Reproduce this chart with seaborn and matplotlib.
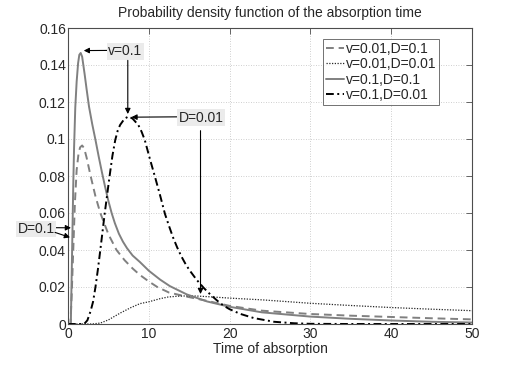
import numpy as np
import pandas as pd
import seaborn as sns
import matplotlib.pyplot as plt

# values
t_v01_D01 = [0, 0.35, 0.45, 0.55, 0.65, 0.75, 0.9, 1.07, 1.25, 1.4, 1.57, 1.75, 2.06, 2.3,
             2.6, 3.0, 3.4, 3.8, 4.2, 4.6, 5.0, 5.4, 5.8, 6.3, 6.8, 7.3, 8.0, 8.9, 10, 11.4,
             12.6, 14.7, 17.2, 20, 24, 30, 35, 40, 45, 50]
f_v01_D01 = [0, 0, 0.025, 0.05, 0.075, 0.095, 0.117, 0.131, 0.141, 0.1455, 0.1465, 0.1445,
             0.135, 0.127, 0.1175, 0.108, 0.0995, 0.0905, 0.082, 0.074, 0.0665, 0.06,
             0.0545, 0.0488, 0.0445, 0.041, 0.037, 0.0335, 0.0288, 0.024, 0.0205, 0.016,
             0.0122, 0.0093, 0.0063, 0.004, 0.0028, 0.0019, 0.0012, 0.0008]

t_v001_D01 = [0, 0.3, 0.45, 0.65, 0.85, 1.07, 1.3, 1.5, 1.75, 2.0, 2.3, 2.8, 3.4, 4.0, 5.0,
              6.0, 7.0, 8.0, 8.9, 10, 11.05, 12.5, 14.7, 17.2, 20, 24, 30, 35, 40, 45, 50]
f_v001_D01 = [0, 0, 0.015, 0.04, 0.065, 0.0832, 0.092, 0.0955, 0.0965, 0.095, 0.09, 0.08,
              0.069, 0.06, 0.0485, 0.04, 0.0345, 0.030, 0.0265, 0.023, 0.020, 0.017, 0.0148,
              0.0125, 0.0098, 0.0072, 0.0054, 0.0045, 0.0038, 0.0031, 0.0025]

t_v01_D001 = [0, 2.0, 2.4, 2.8, 3.1, 3.4, 3.7, 4.0, 4.55, 5.15, 5.5, 5.85, 6.15, 6.45, 7.0,
              7.5, 8.0, 8.7, 9.1, 9.5, 10.15, 10.8, 11.4, 12.0, 12.5, 13.0, 13.5, 14.0, 14.5,
              15.0, 15.9, 16.8, 17.6, 18.5, 19.3, 20, 21.3, 23.0, 25.5, 28, 30, 35, 40, 45, 50]
f_v01_D001 = [0, 0, 0.002, 0.007, 0.012, 0.02, 0.0295, 0.04, 0.06, 0.08, 0.091, 0.0995,
              0.1045, 0.1076, 0.111, 0.1122, 0.111, 0.1076, 0.104, 0.0995, 0.089, 0.079,
              0.0695, 0.0595, 0.053, 0.0468, 0.0415, 0.0368, 0.0328, 0.0293, 0.024, 0.0195,
              0.016, 0.0125, 0.0098, 0.008, 0.0055, 0.0032, 0.0012, 0.0004, 0.0001, 0, 0, 0, 0]

t_v001_D001 = [0, 3.0, 4.0, 5.0, 5.7, 6.5, 7.75, 8.9, 10, 11.4, 12.4, 13.5, 14.7, 16, 17.2,
               20, 24.2, 30, 35, 40, 45, 50]
f_v001_D001 = [0, 0, 0.0005, 0.0022, 0.004, 0.006, 0.0088, 0.011, 0.012, 0.0137, 0.0146,
               0.015, 0.0152, 0.0151, 0.0148, 0.014, 0.013, 0.0112, 0.010, 0.0089, 0.008, 0.0072]

x_ticks = [0, 10, 20, 30, 40, 50]
y_ticks = [0, 0.02, 0.04, 0.06, 0.08, 0.1, 0.12, 0.14, 0.16]
y_tick_labels = ['0', '0.02', '0.04', '0.06', '0.08', '0.1', '0.12', '0.14', '0.16']


def main():
    sns.set_style('white')
    plt.rcParams['font.family'] = ['Liberation Sans', 'DejaVu Sans']
    plt.rcParams['font.size'] = 10

    fig = plt.figure(figsize=(5.22, 3.65), dpi=100)
    ax = fig.add_axes([68 / 522, 1 - 324 / 365, 404 / 522, 296 / 365])

    series = [
        (t_v001_D01, f_v001_D01, 'v=0.01,D=0.1', '0.5', (0, (4, 2.5)), 1.4),
        (t_v001_D001, f_v001_D001, 'v=0.01,D=0.01', '0.15', (0, (1, 1.2)), 0.9),
        (t_v01_D01, f_v01_D01, 'v=0.1,D=0.1', '0.5', '-', 1.4),
        (t_v01_D001, f_v01_D001, 'v=0.1,D=0.01', 'black', (0, (4, 1.8, 1, 1.8)), 1.4),
    ]
    for t, f, name, color, ls, lw in series:
        df = pd.DataFrame({'t': t, 'f': f})
        sns.lineplot(data=df, x='t', y='f', ax=ax, color=color, linestyle=ls,
                     linewidth=lw, label=name)

    ax.set_xlim(0, 50)
    ax.set_ylim(0, 0.16)
    ax.set_xticks(x_ticks)
    ax.set_xticklabels([str(v) for v in x_ticks])
    ax.set_yticks(y_ticks)
    ax.set_yticklabels(y_tick_labels)
    ax.tick_params(direction='in', length=4, width=0.6, color='0.3', top=True, right=True,
                   labelsize=10)
    ax.tick_params(axis='x', pad=2.5)
    ax.tick_params(axis='y', pad=1.5)
    ax.grid(True, linestyle=(0, (1, 2)), color='0.75', linewidth=0.6)
    for sp in ax.spines.values():
        sp.set_color('0.3')
        sp.set_linewidth(0.8)

    ax.set_title('Probability density function of the absorption time', fontsize=10, pad=8)
    ax.set_xlabel('Time of absorption', fontsize=10, labelpad=0.5)
    ax.set_ylabel('')

    leg = ax.legend(loc='upper right', bbox_to_anchor=(0.918, 0.963), borderaxespad=0,
                    fontsize=10, frameon=True, fancybox=False, handlelength=1.25,
                    handletextpad=0.15, labelspacing=0.1, borderpad=0.2)
    leg.get_frame().set_edgecolor('0.3')
    leg.get_frame().set_linewidth(0.7)

    box = dict(boxstyle='square,pad=0.1', facecolor='#ebebeb', edgecolor='none')
    arrow = dict(arrowstyle='-|>', color='black', lw=0.8, mutation_scale=8,
                 shrinkA=0, shrinkB=0)

    # v=0.1 label with arrows to the peaks
    ax.annotate('v=0.1', xy=(1.95, 0.1478), xytext=(7.1, 0.1475), ha='center', va='center',
                fontsize=10, bbox=box, arrowprops=dict(arrow, relpos=(0, 0.55)),
                annotation_clip=False)
    ax.annotate('', xy=(7.4, 0.1135), xytext=(7.4, 0.1425), arrowprops=arrow)

    # D=0.01 label
    ax.annotate('D=0.01', xy=(7.85, 0.1118), xytext=(16.5, 0.1116), ha='center', va='center',
                fontsize=10, bbox=box, arrowprops=dict(arrow, relpos=(0, 0.55)))
    ax.annotate('', xy=(16.4, 0.0162), xytext=(16.4, 0.1045), arrowprops=arrow)

    # D=0.1 label outside the axes
    ax.annotate('D=0.1', xy=(0.37, 0.052), xytext=(-3.95, 0.0513), ha='center', va='center',
                fontsize=10, bbox=box, arrowprops=dict(arrow, relpos=(1, 0.6)),
                annotation_clip=False)
    ax.annotate('', xy=(0.25, 0.0468), xytext=(-1.6, 0.0495), arrowprops=arrow,
                annotation_clip=False)

    fig.savefig('out.png', dpi=100)
    plt.close(fig)


if __name__ == "__main__":
    main()
